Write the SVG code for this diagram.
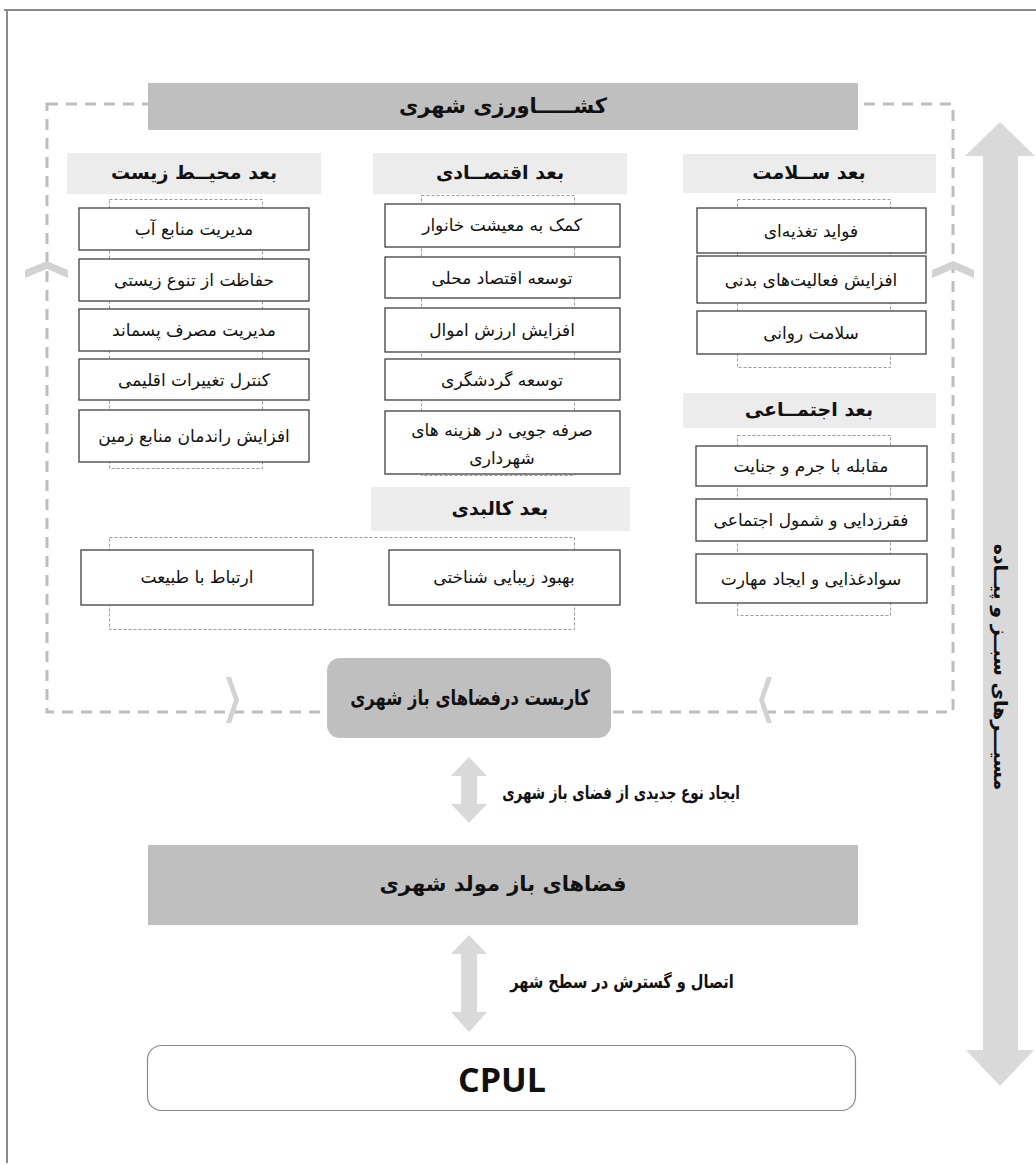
<svg xmlns="http://www.w3.org/2000/svg" width="1036" height="1165" viewBox="0 0 1036 1165">
<style>
.t{font-family:"DejaVu Sans","Noto Sans",sans-serif;fill:#111;text-anchor:middle;dominant-baseline:central}
.bx{fill:#fff;stroke:#404040;stroke-width:1.3}
.hd{fill:#ececec}
.dk{fill:#bfbfbf}
.in{fill:none;stroke:#9a9a9a;stroke-width:1;stroke-dasharray:3 2}
.box{font-size:17px}
.hdt{font-size:19px;font-weight:bold}
.big{font-size:21px;font-weight:bold}
.lbl{font-size:18px;font-weight:bold}
.ch{fill:#d2d2d2}
.ar{fill:#d9d9d9}
</style>
<rect x="0" y="0" width="1036" height="1165" fill="#fff"/>
<line x1="4" y1="10" x2="1036" y2="10" stroke="#8a8a8a" stroke-width="2"/>
<line x1="7" y1="10" x2="7" y2="1163" stroke="#8a8a8a" stroke-width="2"/>

<g id="connectors">
  <rect x="47" y="104" width="906" height="608" fill="none" stroke="#bdbdbd" stroke-width="3" stroke-dasharray="11 8"/>
  <polygon class="ch" points="25,270 47,261 68,270 68,278 47,269 25,278"/>
  <polygon class="ch" points="932,270 953,261 974,270 974,278 953,269 932,278"/>
  <polygon class="ch" points="226,677 234,700 226,723 231,723 239,700 231,677"/>
  <polygon class="ch" points="772,677 764,700 772,723 767,723 759,700 767,677"/>
  <polygon class="ar" points="1000,122 965,156 983,156 983,1050 966,1050 1000,1086 1034,1050 1018,1050 1018,156 1035,156"/>
  <polygon class="ar" points="469,757 451,776 461,776 461,804 451,804 469,823 487,804 477,804 477,776 487,776"/>
  <polygon class="ar" points="469,935 451,954 461,954 461,1012 451,1012 469,1032 487,1012 477,1012 477,954 487,954"/>
  <rect class="in" x="109.5" y="199.5" width="153" height="269"/>
  <rect class="in" x="421.5" y="195.5" width="153" height="280"/>
  <rect class="in" x="737.5" y="199.5" width="153" height="168"/>
  <rect class="in" x="737.5" y="435.5" width="153" height="180"/>
  <rect class="in" x="109.5" y="537.5" width="465" height="92"/>
</g>

<g id="title">
  <rect class="dk" x="148" y="83" width="710" height="47"/>
  <text class="t big" x="503" y="106">کشـــــاورزی شهری</text>
</g>

<g id="env-header"><rect class="hd" x="67" y="153" width="254" height="41"/><text class="t hdt" x="194" y="172">بعد محیــط زیست</text></g>
<g id="eco-header"><rect class="hd" x="373" y="153" width="254" height="41"/><text class="t hdt" x="500" y="172">بعد اقتصــادی</text></g>
<g id="health-header"><rect class="hd" x="683" y="154" width="253" height="39"/><text class="t hdt" x="809" y="172">بعد ســلامت</text></g>
<g id="social-header"><rect class="hd" x="683" y="393" width="253" height="35"/><text class="t hdt" x="809" y="409">بعد اجتمــاعی</text></g>
<g id="phys-header"><rect class="hd" x="371" y="487" width="259" height="44"/><text class="t hdt" x="500" y="508">بعد کالبدی</text></g>

<g id="env1"><rect class="bx" x="79" y="208" width="230" height="42"/><text class="t box" x="194" y="229">مدیریت منابع آب</text></g>
<g id="env2"><rect class="bx" x="79" y="259" width="230" height="42"/><text class="t box" x="194" y="280">حفاظت از تنوع زیستی</text></g>
<g id="env3"><rect class="bx" x="79" y="309" width="230" height="42"/><text class="t box" x="194" y="330">مدیریت مصرف پسماند</text></g>
<g id="env4"><rect class="bx" x="79" y="359" width="230" height="41"/><text class="t box" x="194" y="380">کنترل تغییرات اقلیمی</text></g>
<g id="env5"><rect class="bx" x="79" y="410" width="230" height="52"/><text class="t box" x="194" y="436">افزایش راندمان منابع زمین</text></g>

<g id="eco1"><rect class="bx" x="385" y="204" width="235" height="43"/><text class="t box" x="502" y="225">کمک به معیشت خانوار</text></g>
<g id="eco2"><rect class="bx" x="385" y="257" width="235" height="41"/><text class="t box" x="502" y="278">توسعه اقتصاد محلی</text></g>
<g id="eco3"><rect class="bx" x="385" y="308" width="235" height="44"/><text class="t box" x="502" y="330">افزایش ارزش اموال</text></g>
<g id="eco4"><rect class="bx" x="385" y="359" width="235" height="41"/><text class="t box" x="502" y="380">توسعه گردشگری</text></g>
<g id="eco5"><rect class="bx" x="385" y="411" width="235" height="63"/><text class="t box" x="502" y="430">صرفه جویی در هزینه های</text><text class="t box" x="502" y="458">شهرداری</text></g>

<g id="health1"><rect class="bx" x="697" y="208" width="229" height="45"/><text class="t box" x="811" y="231">فواید تغذیه‌ای</text></g>
<g id="health2"><rect class="bx" x="697" y="256" width="229" height="47"/><text class="t box" x="811" y="280">افزایش فعالیت‌های بدنی</text></g>
<g id="health3"><rect class="bx" x="697" y="311" width="229" height="43"/><text class="t box" x="811" y="333">سلامت روانی</text></g>

<g id="social1"><rect class="bx" x="696" y="446" width="231" height="40"/><text class="t box" x="811" y="466">مقابله با جرم و جنایت</text></g>
<g id="social2"><rect class="bx" x="696" y="499" width="231" height="42"/><text class="t box" x="811" y="520">فقرزدایی و شمول اجتماعی</text></g>
<g id="social3"><rect class="bx" x="696" y="554" width="231" height="49"/><text class="t box" x="811" y="579">سوادغذایی و ایجاد مهارت</text></g>

<g id="phys1"><rect class="bx" x="81" y="550" width="232" height="55"/><text class="t box" x="197" y="577">ارتباط با طبیعت</text></g>
<g id="phys2"><rect class="bx" x="389" y="550" width="231" height="55"/><text class="t box" x="504" y="577">بهبود زیبایی شناختی</text></g>

<g id="apply">
  <rect class="dk" x="327" y="658" width="284" height="80" rx="13"/>
  <text class="t" transform="translate(470 698) scale(0.78 1)" x="0" y="0" style="font-size:21px;font-weight:bold">کاربست درفضاهای باز شهری</text>
</g>
<g id="label1"><text class="t lbl" transform="translate(621 793) scale(0.75 1)" x="0" y="0">ایجاد نوع جدیدی از فضای باز شهری</text></g>
<g id="productive">
  <rect class="dk" x="148" y="845" width="710" height="80"/>
  <text class="t big" x="503" y="884">فضاهای باز مولد شهری</text>
</g>
<g id="label2"><text class="t lbl" transform="translate(622 982) scale(0.81 1)" x="0" y="0">اتصال و گسترش در سطح شهر</text></g>
<g id="cpul">
  <rect x="147.5" y="1045.5" width="708" height="65" rx="14" fill="#fff" stroke="#8a8a8a" stroke-width="1.2"/>
  <text class="t" x="502" y="1079" style="font-family:'Open Sans','Liberation Sans',sans-serif;font-size:34px;font-weight:bold">CPUL</text>
</g>
<g id="greenways">
  <text class="t" transform="translate(1001 667) rotate(90)" style="font-size:19px;font-weight:bold">مسیـــرهای سبــز و پیــاده</text>
</g>
</svg>
